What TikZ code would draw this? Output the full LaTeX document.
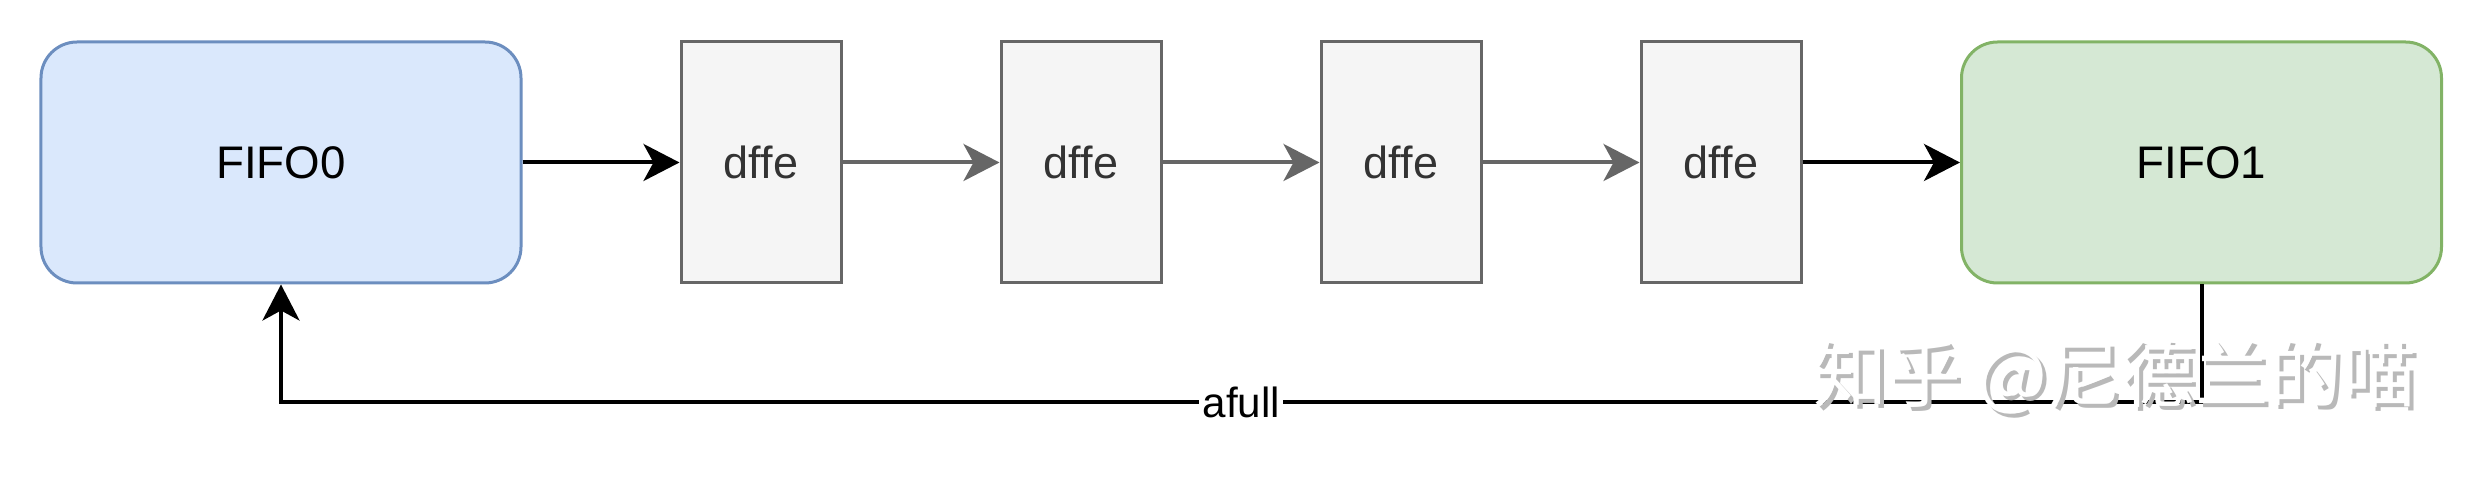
\documentclass[tikz,border=0pt]{standalone}
\usepackage{fontspec}
\setmainfont{Liberation Sans}
\newfontfamily\cjk{Noto Sans CJK SC}
\usepackage{tikz}
\usetikzlibrary{arrows.meta}
\definecolor{fifoblue}{HTML}{DAE8FC}
\definecolor{fifoblueline}{HTML}{6C8EBF}
\definecolor{fifogreen}{HTML}{D5E8D4}
\definecolor{fifogreenline}{HTML}{82B366}
\definecolor{dffefill}{HTML}{F5F5F5}
\definecolor{dffeline}{HTML}{666666}
\definecolor{dffetext}{HTML}{333333}

\begin{document}
\begin{tikzpicture}[
    font=\fontsize{12pt}{14pt}\selectfont,
    fifobox/.style={rectangle, rounded corners=0.36cm, line width=0.03cm, inner sep=0pt,
                    font=\fontsize{13pt}{15pt}\selectfont,
                    minimum width=4.8cm, minimum height=2.41cm},
    dffebox/.style={rectangle, draw=dffeline, fill=dffefill, text=dffetext, line width=0.03cm,
                    font=\fontsize{12.8pt}{15pt}\selectfont,
                    inner sep=0pt, minimum width=1.6cm, minimum height=2.41cm},
    tip/.style={-{Stealth[length=0.36cm, width=0.37cm, inset=0.1cm]}, line width=0.04cm}
  ]
        \useasboundingbox (0,0) rectangle (24.84,-4.8);
        \node[fifobox, draw=fifoblueline, fill=fifoblue] (F0) at (2.81,-1.625) {FIFO0};
        \node[fifobox, draw=fifogreenline, fill=fifogreen] (F1) at (22.015,-1.625) {FIFO1};
        \foreach \i/\x in {1/7.61, 2/10.81, 3/14.01, 4/17.21}
            \node[dffebox] (D\i) at (\x,-1.625) {dffe};
        \draw[tip] (F0) -- (D1);
        \draw[tip, dffeline] (D1) -- (D2);
        \draw[tip, dffeline] (D2) -- (D3);
        \draw[tip, dffeline] (D3) -- (D4);
        \draw[tip] (D4) -- (F1);
        \coordinate (B1) at (22.015,-4.02);
        \coordinate (B0) at (2.81,-4.02);
        \draw[tip] (F1.south) -- (B1) -- (B0)
          node[midway, fill=white, inner sep=1pt] (L) {afull}
          -- (F0.south);
        \node[text=gray!55, font=\cjk\fontsize{21pt}{24pt}\selectfont] (WS) at (21.19,-3.81) {知乎 @尼德兰的喵};
        \node[text=white, font=\cjk\fontsize{21pt}{24pt}\selectfont] (W) at (21.15,-3.77) {知乎 @尼德兰的喵};
    \end{tikzpicture}
\end{document}
